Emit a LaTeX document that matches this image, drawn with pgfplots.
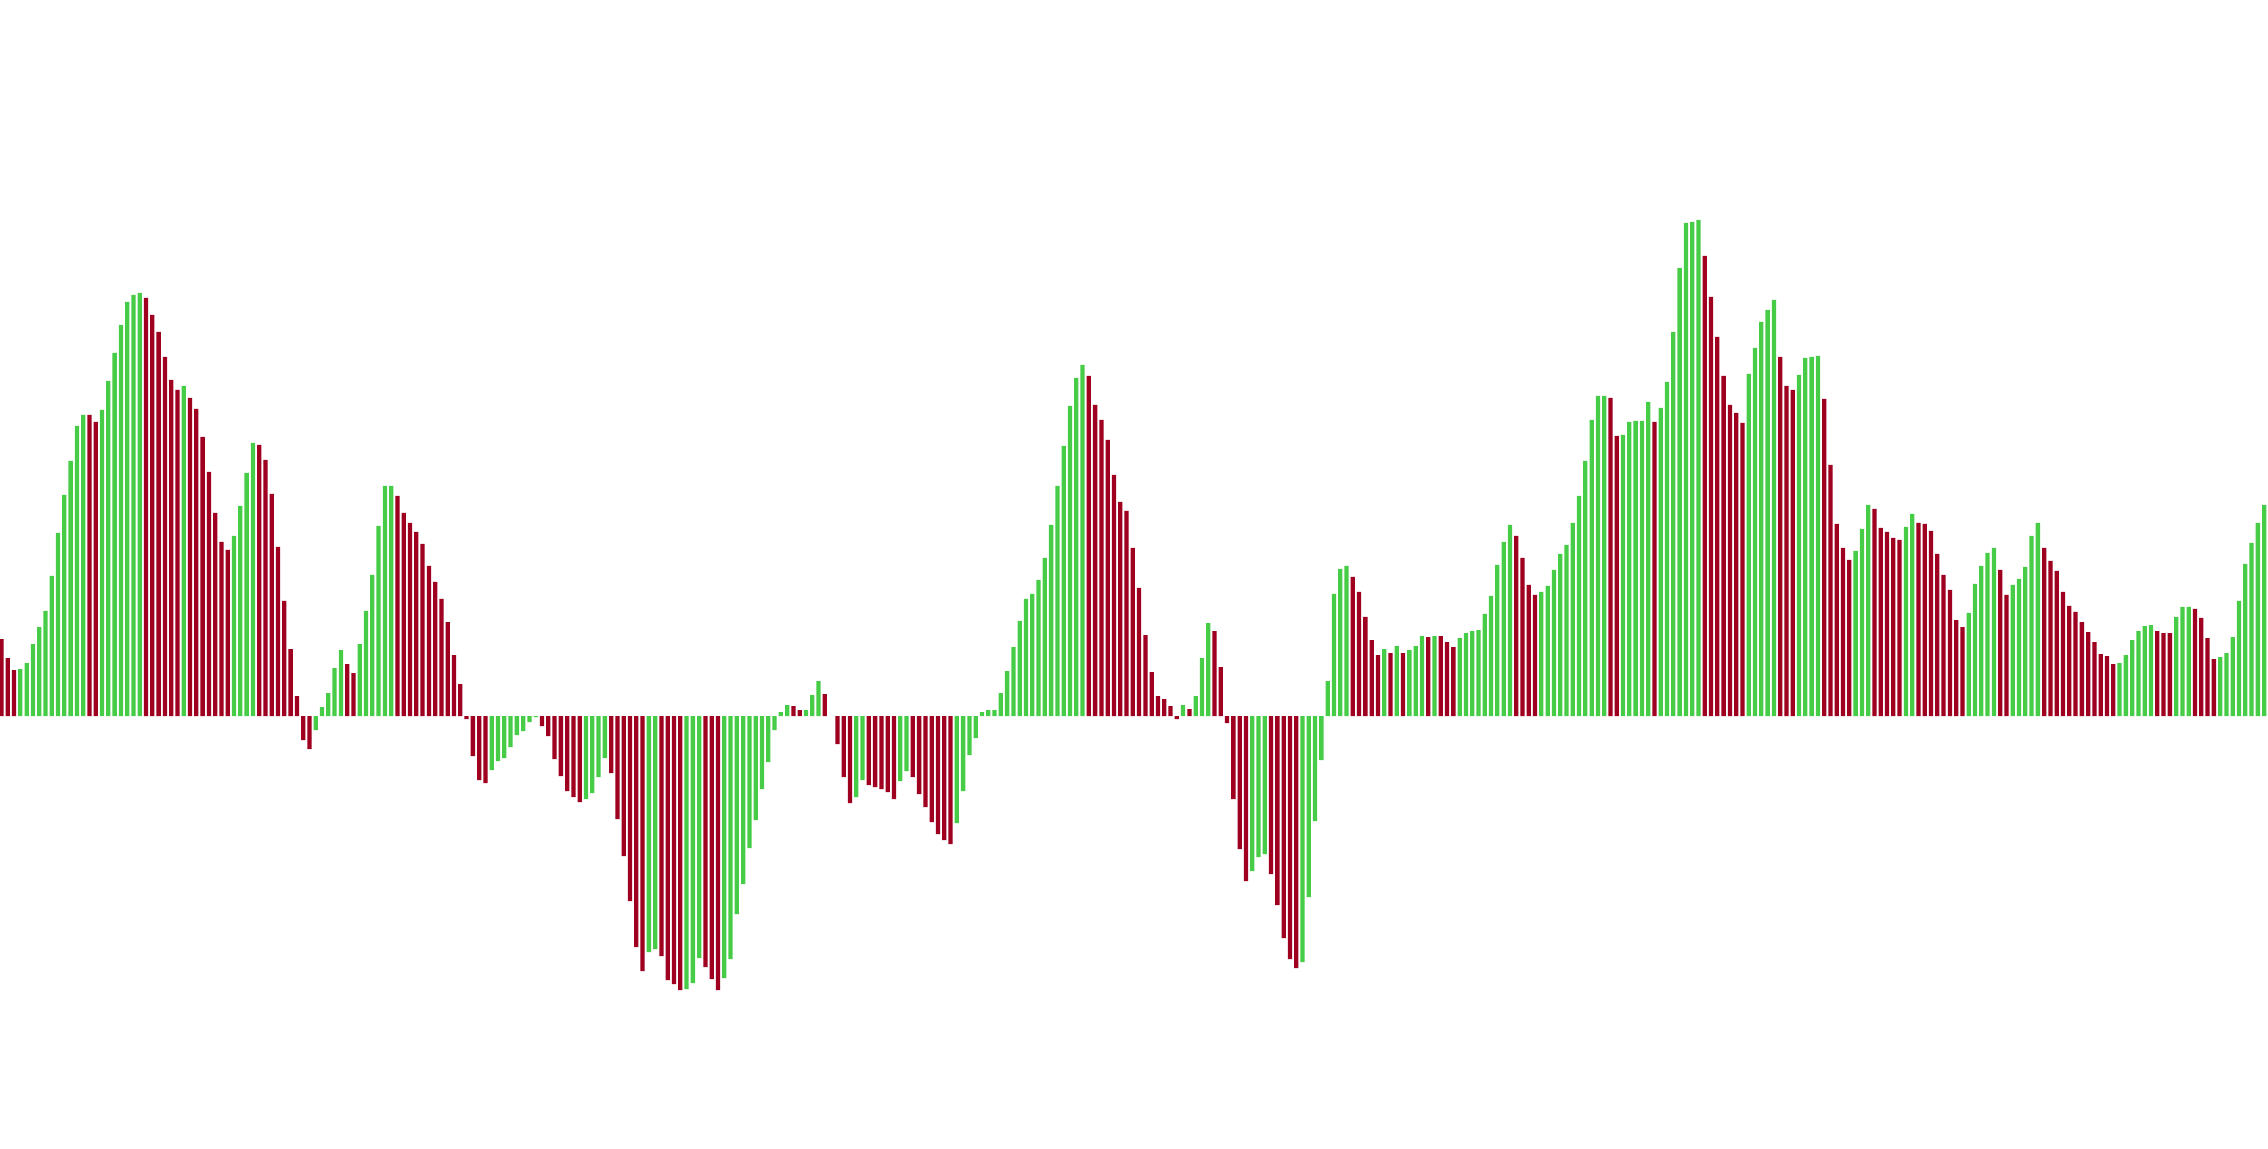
\documentclass[border=0pt]{standalone}
\usepackage{pgfplots}
\pgfplotsset{compat=1.18}
\definecolor{upgreen}{RGB}{70,204,70}
\definecolor{downred}{RGB}{160,0,32}

% histogram values, one table per colour (bar index, value)
\usepackage{pgfplotstable}
\pgfplotstableread{
i v
3 47
4 53
5 72
6 89
7 105
8 140
9 183
10 221
11 255
12 290
13 301
16 306
17 335
18 363
19 391
20 414
21 421
22 423
29 330
37 180
38 210
39 243
40 273
50 -14
51 9
52 23
53 48
54 66
57 72
58 105
59 141
60 190
61 230
62 230
78 -54
79 -45
80 -42
81 -31
82 -19
83 -15
84 -6
85 -1
93 -83
94 -77
95 -61
96 -42
103 -236
104 -233
109 -273
110 -267
111 -242
115 -262
116 -243
117 -198
118 -168
119 -132
120 -104
121 -73
122 -46
123 -14
124 4
125 11
128 6
129 21
130 35
136 -81
137 -64
143 -65
144 -55
152 -107
153 -75
154 -39
155 -22
156 4
157 6
158 6
159 23
160 45
161 69
162 95
163 117
164 122
165 136
166 158
167 191
168 230
169 270
170 310
171 338
172 351
188 11
190 20
191 58
192 93
199 -155
200 -141
201 -138
207 -246
208 -181
209 -105
210 -44
211 35
212 122
213 147
214 150
220 67
222 70
224 66
225 70
226 80
228 80
232 78
233 83
234 85
235 86
236 102
237 120
238 151
239 174
240 191
245 124
246 130
247 146
248 162
249 171
250 193
251 220
252 255
253 296
254 320
255 320
258 281
259 294
260 295
261 295
262 314
264 308
265 334
266 384
267 448
268 493
269 494
270 496
278 342
279 368
280 394
281 406
282 416
286 341
287 358
288 359
289 360
295 165
296 187
297 211
303 189
304 202
313 103
314 132
315 150
316 163
317 168
320 131
321 137
322 149
323 180
324 193
337 53
338 61
339 76
340 85
341 90
342 91
346 99
347 109
348 109
353 59
354 63
355 79
356 115
357 152
358 173
359 193
360 211
}\upbars

\pgfplotstableread{
i v
0 77
1 58
2 46
14 301
15 294
23 418
24 401
25 384
26 359
27 336
28 326
30 318
31 307
32 279
33 244
34 203
35 174
36 166
41 271
42 256
43 222
44 169
45 115
46 67
47 20
48 -24
49 -33
55 52
56 43
63 220
64 203
65 193
66 184
67 172
68 150
69 134
70 117
71 94
72 61
73 32
74 -3
75 -40
76 -64
77 -67
86 -10
87 -20
88 -43
89 -60
90 -75
91 -81
92 -86
97 -57
98 -103
99 -140
100 -185
101 -231
102 -255
105 -240
106 -264
107 -268
108 -274
112 -251
113 -263
114 -274
126 10
127 6
131 22
133 -28
134 -61
135 -87
138 -69
139 -71
140 -73
141 -76
142 -83
145 -61
146 -78
147 -91
148 -106
149 -118
150 -124
151 -128
173 340
174 311
175 296
176 276
177 241
178 214
179 205
180 168
181 128
182 81
183 44
184 20
185 17
186 10
187 -3
189 7
193 85
194 49
195 -7
196 -83
197 -133
198 -165
202 -158
203 -189
204 -222
205 -243
206 -252
215 139
216 124
217 99
218 76
219 61
221 63
223 63
227 79
229 80
230 74
231 69
241 180
242 158
243 131
244 121
256 318
257 280
263 294
271 460
272 419
273 379
274 340
275 311
276 303
277 293
283 359
284 330
285 326
290 317
291 251
292 192
293 168
294 156
298 207
299 188
300 184
301 178
302 176
305 193
306 192
307 185
308 162
309 141
310 126
311 96
312 89
318 146
319 121
325 168
326 155
327 145
328 124
329 110
330 104
331 94
332 84
333 74
334 62
335 60
336 52
343 85
344 83
345 83
349 107
350 98
351 78
352 57
}\downbars

\begin{document}
\begin{tikzpicture}
\begin{axis}[
    width=567pt, height=287pt, scale only axis,
    hide axis,
    xmin=-0.2387, xmax=360.62,
    ymin=-432, ymax=716,
    ybar, bar width=0.68, bar shift=0pt,
]
\addplot[draw=none, fill=upgreen] table[x=i, y=v] {\upbars};
\addplot[draw=none, fill=downred] table[x=i, y=v] {\downbars};
\end{axis}
\pgfresetboundingbox
\path[use as bounding box] (current axis.south west) rectangle (current axis.north east);
\end{tikzpicture}
\end{document}
